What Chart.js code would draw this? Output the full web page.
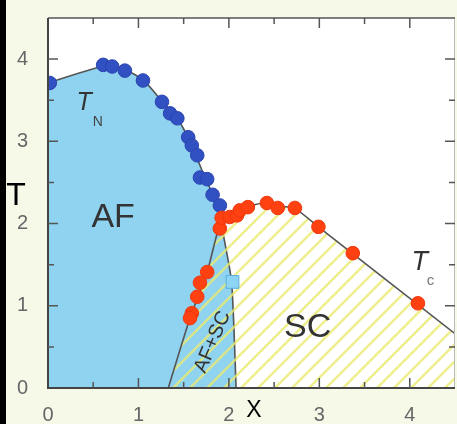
<!DOCTYPE html>
<html>
<head>
<meta charset="utf-8">
<script src="https://cdn.jsdelivr.net/npm/chart.js@4.4.1/dist/chart.umd.min.js"></script>
<style>
  html, body { margin: 0; padding: 0; background: #f6f8e8; }
  canvas { display: block; }
</style>
</head>
<body>
<canvas id="diagramme" width="457" height="424"></canvas>
<script>
// points T_N (bleu)
const tnX = [0.02, 0.61, 0.71, 0.85, 1.05, 1.26, 1.35, 1.43, 1.55, 1.59, 1.65, 1.68, 1.76, 1.82, 1.90];
const tnY = [3.71, 3.93, 3.91, 3.86, 3.74, 3.48, 3.34, 3.28, 3.05, 2.95, 2.83, 2.56, 2.54, 2.35, 2.22];

// points T_c (rouge)
const tcX = [1.90, 1.92, 2.01, 2.09, 2.12, 2.21, 2.42, 2.54, 2.73, 2.99, 3.37, 4.09,
             1.76, 1.68, 1.65, 1.59, 1.57];
const tcY = [1.94, 2.07, 2.08, 2.10, 2.16, 2.20, 2.25, 2.19, 2.19, 1.96, 1.64, 1.03,
             1.41, 1.28, 1.11, 0.91, 0.85];

// point isolé (carré)
const carreX = [2.04];
const carreY = [1.29];

// contour de la zone AF (jusqu'à la limite AF+SC / SC)
const afX = [0, 0.63, 0.85, 1.05, 1.26, 1.43, 1.59, 1.72, 1.82, 1.90, 1.93, 2.03, 2.08];
const afY = [3.71, 3.92, 3.87, 3.75, 3.49, 3.28, 2.95, 2.60, 2.36, 2.18, 1.92, 1.29, 0];

// contour de la zone SC (hachurée)
const scX = [1.33, 1.57, 1.76, 1.88, 1.95, 2.10, 2.25, 2.42, 2.60, 2.75, 3.00, 4.50];
const scY = [0, 0.85, 1.41, 1.92, 2.06, 2.15, 2.22, 2.25, 2.21, 2.17, 1.95, 0.66];

// graduations
const graduations = [0, 0.5, 1, 1.5, 2, 2.5, 3, 3.5, 4, 4.5];

const points = (xs, ys) => xs.map((x, i) => ({ x: x, y: ys[i] }));

// motif de hachures jaunes
function motifHachures(ctx) {
  const s = 17;
  const c = document.createElement('canvas');
  c.width = s; c.height = s;
  const g = c.getContext('2d');
  g.strokeStyle = 'rgba(234,234,110,0.8)';
  g.lineWidth = 2.4;
  g.beginPath();
  g.moveTo(0, s); g.lineTo(s, 0);
  g.moveTo(-s / 2, s / 2); g.lineTo(s / 2, -s / 2);
  g.moveTo(s / 2, s * 1.5); g.lineTo(s * 1.5, s / 2);
  g.stroke();
  return ctx.createPattern(c, 'repeat');
}

const police = 'Liberation Sans, Arial, sans-serif';

// fond, cadre, graduations internes et textes
const decor = {
  id: 'decor',
  beforeDraw(chart) {
    const { ctx, chartArea: a } = chart;
    ctx.save();
    ctx.fillStyle = '#f6f8e8';
    ctx.fillRect(0, 0, chart.width, chart.height);
    ctx.fillStyle = '#000';
    ctx.fillRect(0, 0, 6, chart.height);
    ctx.fillStyle = '#fff';
    ctx.fillRect(a.left, a.top, a.right - a.left, a.bottom - a.top);
    ctx.restore();
  },
  afterDatasetsDraw(chart) {
    const { ctx, chartArea: a, scales } = chart;
    const sx = scales.x, sy = scales.y;
    ctx.save();
    // cadre
    ctx.strokeStyle = '#bbb';
    ctx.lineWidth = 1;
    ctx.beginPath();
    ctx.moveTo(a.right - 0.5, a.top); ctx.lineTo(a.right - 0.5, a.bottom);
    ctx.stroke();
    ctx.strokeStyle = '#555';
    ctx.lineWidth = 1.5;
    ctx.beginPath();
    ctx.moveTo(a.left, a.top); ctx.lineTo(a.right, a.top);
    ctx.stroke();
    ctx.strokeStyle = '#444';
    ctx.lineWidth = 2;
    ctx.beginPath();
    ctx.moveTo(a.left, a.top); ctx.lineTo(a.left, a.bottom); ctx.lineTo(a.right, a.bottom);
    ctx.stroke();
    // graduations vers l'intérieur
    ctx.strokeStyle = '#555';
    ctx.lineWidth = 1.5;
    ctx.beginPath();
    graduations.forEach(v => {
      const l = Number.isInteger(v) ? 10 : 6;
      const px = sx.getPixelForValue(v);
      const py = sy.getPixelForValue(v);
      if (v > 0 && v < 4.5) {
        ctx.moveTo(px, a.bottom); ctx.lineTo(px, a.bottom - l);
        ctx.moveTo(px, a.top); ctx.lineTo(px, a.top + l);
        ctx.moveTo(a.left, py); ctx.lineTo(a.left + l, py);
        ctx.moveTo(a.right, py); ctx.lineTo(a.right - l, py);
      }
    });
    ctx.stroke();

    // textes
    const texte = (t, x, y, font, color, angle) => {
      ctx.save();
      ctx.translate(x, y);
      if (angle) ctx.rotate(angle * Math.PI / 180);
      ctx.font = font;
      ctx.fillStyle = color;
      ctx.textAlign = 'center';
      ctx.textBaseline = 'middle';
      ctx.fillText(t, 0, 0);
      ctx.restore();
    };
    const X = v => sx.getPixelForValue(v);
    const Y = v => sy.getPixelForValue(v);
    texte('AF', X(0.72), Y(2.07), '34px ' + police, '#333');
    texte('SC', X(2.87), Y(0.74), '34px ' + police, '#333');
    texte('AF+SC', X(1.82), Y(0.56), '20px ' + police, '#333', -67);
    texte('T', X(0.40), Y(3.46), 'italic 25px ' + police, '#333');
    texte('N', X(0.55), Y(3.23), '14px ' + police, '#444');
    texte('T', X(4.11), Y(1.53), 'italic 27px ' + police, '#333');
    texte('c', X(4.23), Y(1.30), '15px ' + police, '#777');
    texte('T', 16, 196, '32px ' + police, '#000');
    texte('X', 254, 411, '23px ' + police, '#000');
    ctx.restore();
  }
};

const axe = () => ({
  type: 'linear',
  min: 0,
  max: 4.5,
  grid: { display: false },
  border: { display: false },
  ticks: {
    stepSize: 1,
    includeBounds: false,
    autoSkip: false,
    maxRotation: 0,
    color: '#666',
    font: { family: police, size: 20 },
    padding: 12,
    callback: v => Number.isInteger(v) ? String(v) : ''
  }
});

const axeX = axe();
axeX.ticks.padding = 7;
axeX.afterFit = s => { s.height = 36; s.paddingLeft = 0; s.paddingRight = 0; };
const axeY = axe();
axeY.afterFit = s => { s.width = 48; s.paddingTop = 0; s.paddingBottom = 0; };

const ctx = document.getElementById('diagramme').getContext('2d');

new Chart(ctx, {
  type: 'line',
  data: {
    datasets: [
      {
        // carré bleu clair
        data: points(carreX, carreY),
        showLine: false,
        pointStyle: 'rect',
        pointRadius: 9,
        pointBackgroundColor: '#8dd5f4',
        pointBorderColor: '#5aaee0',
        pointBorderWidth: 1,
        order: 0,
        clip: 0
      },
      {
        data: points(tcX, tcY),
        showLine: false,
        pointRadius: 6.8,
        pointBackgroundColor: '#ff4112',
        pointBorderColor: '#f0380c',
        pointBorderWidth: 1,
        order: 1,
        clip: 0
      },
      {
        data: points(tnX, tnY),
        showLine: false,
        pointRadius: 6.8,
        pointBackgroundColor: '#3150c2',
        pointBorderColor: '#2a45b0',
        pointBorderWidth: 1,
        order: 2,
        clip: 0
      },
      {
        // zone SC hachurée
        data: points(scX, scY),
        pointRadius: 0,
        borderColor: '#555',
        borderWidth: 1.6,
        tension: 0.2,
        fill: 'origin',
        backgroundColor: motifHachures(ctx),
        order: 5,
        clip: 0
      },
      {
        // zone AF
        data: points(afX, afY),
        pointRadius: 0,
        borderColor: '#555',
        borderWidth: 1.6,
        tension: 0.2,
        fill: 'origin',
        backgroundColor: '#8fd3f1',
        order: 6,
        clip: 0
      }
    ]
  },
  options: {
    responsive: false,
    animation: false,
    layout: { autoPadding: false, padding: { top: 18, right: 2, left: 0, bottom: 0 } },
    plugins: {
      legend: { display: false },
      tooltip: { enabled: false }
    },
    scales: { x: axeX, y: axeY }
  },
  plugins: [decor]
});
</script>
</body>
</html>
